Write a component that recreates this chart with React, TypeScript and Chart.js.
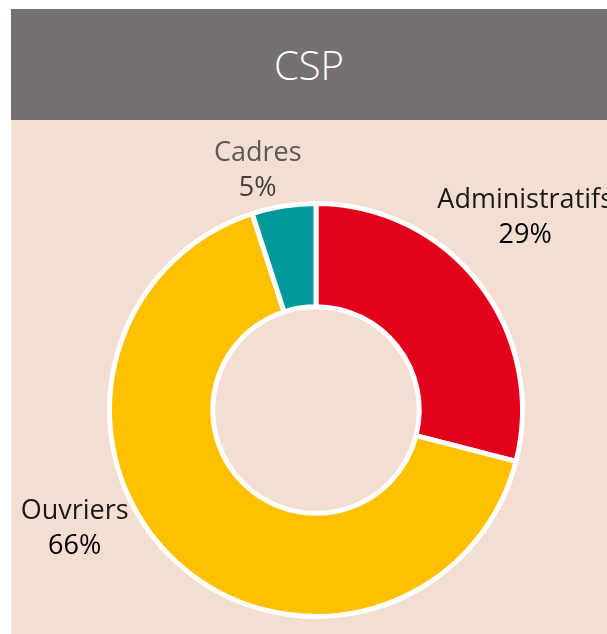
import React, { useEffect, useRef } from "react";
import { Chart, registerables } from "chart.js";

Chart.register(...registerables);

const title = "CSP";
const categories = ["Administratifs", "Ouvriers", "Cadres"];
const values = [29, 66, 5];
const percentLabels = ["29%", "66%", "5%"];
const colors = ["#E2001A", "#FFC000", "#009999"];
const nameColors = ["#1a1a1a", "#1a1a1a", "#595959"];
const pctColors = ["#000000", "#000000", "#404040"];

const labelPlugin = {
  id: "outerLabels",
  afterDraw(chart: any, _args: any, opts: any) {
    const ctx = chart.ctx;
    const meta = chart.getDatasetMeta(0);
    const offsets = opts.offsets || [];
    ctx.save();
    ctx.textAlign = "center";
    ctx.textBaseline = "alphabetic";
    ctx.font = "27px 'Open Sans'";
    meta.data.forEach((arc: any, i: number) => {
      const p = arc.getProps(["x", "y", "startAngle", "endAngle", "outerRadius"], true);
      const mid = (p.startAngle + p.endAngle) / 2;
      const bx = p.x + Math.cos(mid) * p.outerRadius;
      const by = p.y + Math.sin(mid) * p.outerRadius;
      const off = offsets[i] || [0, 0];
      const cx = bx + off[0];
      const cy = by + off[1];
      ctx.fillStyle = nameColors[i];
      ctx.fillText(categories[i], cx, cy - 9);
      ctx.fillStyle = pctColors[i];
      ctx.fillText(percentLabels[i], cx, cy + 26);
    });
    ctx.restore();
  },
};

export default function App() {
  const ref = useRef<HTMLCanvasElement>(null);
  useEffect(() => {
    if (!ref.current) return;
    const chart = new Chart(ref.current, {
      type: "doughnut",
      data: {
        labels: categories,
        datasets: [
          {
            data: values,
            backgroundColor: colors,
            borderColor: "#ffffff",
            borderWidth: 5,
            hoverOffset: 0,
            offset: 0,
          },
        ],
      },
      options: {
        responsive: false,
        animation: false,
        cutout: "50%",
        layout: { padding: { left: 96, right: 82, top: 81, bottom: 15 } },
        plugins: {
          legend: { display: false },
          tooltip: { enabled: false },
          outerLabels: {
            offsets: [
              [46, -66],
              [-100, -33],
              [-26, -36],
            ],
          },
        } as any,
      },
      plugins: [labelPlugin],
    });
    return () => chart.destroy();
  }, []);
  return (
    <div style={{ position: "absolute", left: 11, top: 9, width: 596, height: 625, overflow: "hidden" }}>
      <div
        style={{
          height: 111,
          background: "#767171",
          color: "#ffffff",
          display: "flex",
          alignItems: "center",
          justifyContent: "center",
          fontFamily: "'Open Sans', sans-serif",
          fontSize: 40,
          fontWeight: 300,
        }}
      >
        {title}
      </div>
      <div style={{ height: 514, background: "#F4DDD1" }}>
        <canvas ref={ref} width={596} height={514} style={{ display: "block" }} />
      </div>
    </div>
  );
}
